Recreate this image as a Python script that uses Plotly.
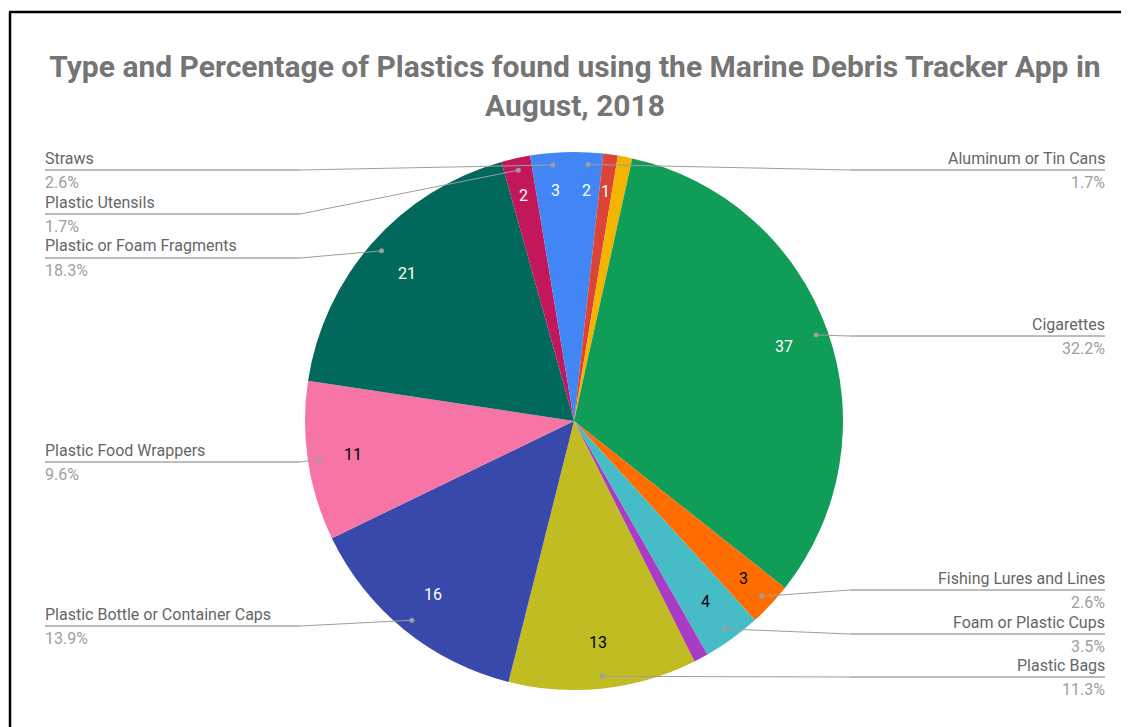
import math
import plotly.graph_objects as go

W, H = 1121, 719
OFF = 8  # page body margin

# ---------------- data (clockwise from 12 o'clock) ----------------
categories = [
    "Aluminum or Tin Cans", "Plastic Bottles", "Plastic Rope or Net Pieces", "Cigarettes",
    "Fishing Lures and Lines", "Foam or Plastic Cups", "Balloons", "Plastic Bags",
    "Plastic Bottle or Container Caps", "Plastic Food Wrappers", "Plastic or Foam Fragments",
    "Plastic Utensils", "Straws",
]
counts = [2, 1, 1, 37, 3, 4, 1, 13, 16, 11, 21, 2, 3]
show_value = [True, True, False, True, True, True, False, True, True, True, True, True, True]

# ---------------- styles ----------------
colors = ["#4285F4", "#DB4437", "#F4B400", "#0F9D58", "#FF6D00", "#46BDC6", "#A93BC5",
          "#C1BC22", "#3949AB", "#F774A6", "#00695C", "#C2185B", "#4285F4"]
text_colors = ["white", "white", "black", "white", "black", "black", "white", "black",
               "white", "black", "white", "white", "white"]

# labeled legend rows (side, y of underline in px)
label_rows = {
    "Straws": ("left", 170),
    "Plastic Utensils": ("left", 214),
    "Plastic or Foam Fragments": ("left", 258),
    "Plastic Food Wrappers": ("left", 462),
    "Plastic Bottle or Container Caps": ("left", 626),
    "Aluminum or Tin Cans": ("right", 170),
    "Cigarettes": ("right", 336),
    "Fishing Lures and Lines": ("right", 590),
    "Foam or Plastic Cups": ("right", 634),
    "Plastic Bags": ("right", 677),
}

CX, CY, R = 574, 421, 269
LEFT_X, RIGHT_X = 45, 1105
ELBOW_L, ELBOW_R = 300, 850
FONT = "Roboto"


def px(x):
    return (x - OFF) / W


def py(y):
    return 1 - (y - OFF) / H


total = sum(counts)

fig = go.Figure()
fig.add_trace(go.Pie(
    labels=categories,
    values=counts,
    textinfo="none",
    marker=dict(colors=colors, line=dict(width=0)),
    sort=False,
    direction="clockwise",
    rotation=0,
    domain=dict(x=[px(CX - R), px(CX + R)], y=[py(CY + R), py(CY - R)]),
    showlegend=False,
    hovertemplate="%{label}: %{value} (%{percent})<extra></extra>",
))

shapes = []
annotations = []
cum = 0
for cat, v, show, tc in zip(categories, counts, show_value, text_colors):
    mid = (cum + v / 2) / total * 2 * math.pi
    cum += v
    s, c = math.sin(mid), math.cos(mid)
    if show:
        rt = (0.86 if v <= 3 else 0.83) * R
        annotations.append(dict(xref="paper", yref="paper",
                                x=px(CX + rt * s), y=py(CY - rt * c),
                                text=str(v), showarrow=False, xanchor="center", yanchor="middle",
                                font=dict(family=FONT, size=16, color=tc)))
    if cat not in label_rows:
        continue
    side, ly = label_rows[cat]
    rd = 0.955 * R
    dx = CX + rd * s
    dy = CY - rd * c
    ex = ELBOW_L if side == "left" else ELBOW_R
    tx = LEFT_X if side == "left" else RIGHT_X
    shapes.append(dict(type="line", xref="paper", yref="paper",
                       x0=px(tx), y0=py(ly), x1=px(ex), y1=py(ly),
                       line=dict(color="#7A7A7A", width=1), layer="above"))
    shapes.append(dict(type="line", xref="paper", yref="paper",
                       x0=px(ex), y0=py(ly), x1=px(dx), y1=py(dy),
                       line=dict(color="#9E9E9E", width=1), layer="above"))
    shapes.append(dict(type="circle", xref="paper", yref="paper",
                       x0=px(dx - 2.5), y0=py(dy - 2.5), x1=px(dx + 2.5), y1=py(dy + 2.5),
                       fillcolor="#9E9E9E", line=dict(width=0), layer="above"))
    anchor = "left" if side == "left" else "right"
    ax = tx - 2 if side == "left" else tx + 2
    annotations.append(dict(xref="paper", yref="paper", x=px(ax), y=py(ly - 12),
                            text=cat, showarrow=False, xanchor=anchor, yanchor="middle",
                            font=dict(family=FONT, size=16, color="#666666")))
    annotations.append(dict(xref="paper", yref="paper", x=px(ax), y=py(ly + 12),
                            text=f"{v / total * 100:.1f}%", showarrow=False,
                            xanchor=anchor, yanchor="middle",
                            font=dict(family=FONT, size=16, color="#9E9E9E")))

# frame of the screenshot
shapes.append(dict(type="line", xref="paper", yref="paper", x0=px(9), y0=py(12), x1=1, y1=py(12),
                   line=dict(color="black", width=2.5), layer="above"))
shapes.append(dict(type="line", xref="paper", yref="paper", x0=px(10), y0=py(12), x1=px(10), y1=0,
                   line=dict(color="black", width=2.5), layer="above"))

fig.update_layout(
    width=W, height=H,
    margin=dict(l=0, r=0, t=0, b=0),
    paper_bgcolor="white",
    plot_bgcolor="white",
    title=dict(
        text="Type and Percentage of Plastics found using the Marine Debris Tracker App in<br>August, 2018",
        x=px(575), xanchor="center", xref="paper",
        y=py(77), yanchor="middle", yref="container",
        font=dict(family=FONT, size=30, color="#757575", weight="bold"),
    ),
    shapes=shapes,
    annotations=annotations,
)

fig.write_html("out.html")
